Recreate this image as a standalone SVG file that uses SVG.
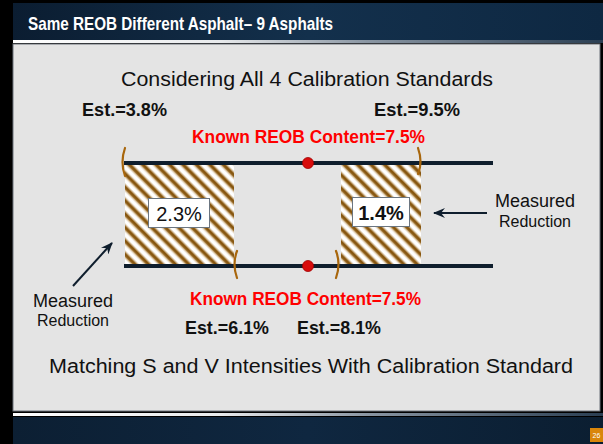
<svg xmlns="http://www.w3.org/2000/svg" width="603" height="444" viewBox="0 0 603 444">
<style>
.t{font-family:"Liberation Sans",Arial,sans-serif;fill:#111}
.est{font-family:"Liberation Sans",Arial,sans-serif;font-weight:bold;font-size:18px;fill:#111}
.red{font-family:"Liberation Sans",Arial,sans-serif;font-weight:bold;font-size:18px;fill:#ff0000}
.bar{stroke:#0f1e2d;stroke-width:4}
.dot{fill:#d80c0c;stroke:#a00000;stroke-width:0.8}
.br{fill:none;stroke:#a8660c;stroke-width:2.2;stroke-linecap:round}
.arr{stroke:#0f1e2d;stroke-width:2;fill:none}
.lbl{fill:#fff;stroke:#6b7580;stroke-width:1}
.pct{font-family:"Liberation Sans",Arial,sans-serif;font-size:20px;fill:#111}
</style>
<defs>
<linearGradient id="hdr" x1="0" y1="0" x2="1" y2="0">
<stop offset="0" stop-color="#0b1d31"/><stop offset="0.5" stop-color="#13304c"/><stop offset="1" stop-color="#0e2842"/>
</linearGradient>
<linearGradient id="ftr" x1="0" y1="0" x2="1" y2="0">
<stop offset="0" stop-color="#0c1f33"/><stop offset="0.5" stop-color="#0f2740"/><stop offset="1" stop-color="#0b1e31"/>
</linearGradient>
<linearGradient id="sep" x1="0" y1="0" x2="1" y2="0">
<stop offset="0" stop-color="#ffffff"/><stop offset="0.35" stop-color="#e8eaec"/><stop offset="0.6" stop-color="#8a96a3"/><stop offset="1" stop-color="#2a3e52"/>
</linearGradient>
<linearGradient id="stripe" x1="0" y1="0" x2="1" y2="0">
<stop offset="0" stop-color="#ffffff"/><stop offset="0.15" stop-color="#d4bb94"/><stop offset="0.28" stop-color="#87560f"/><stop offset="0.47" stop-color="#87560f"/><stop offset="0.6" stop-color="#d8c19e"/><stop offset="0.72" stop-color="#ffffff"/><stop offset="1" stop-color="#ffffff"/>
</linearGradient>
<pattern id="hatch" patternUnits="userSpaceOnUse" width="9.5" height="9.5" patternTransform="rotate(-45)">
<rect width="9.5" height="9.5" fill="url(#stripe)"/>
</pattern>
<marker id="ah" viewBox="0 0 12 10" refX="11" refY="5" markerWidth="6" markerHeight="5" orient="auto" markerUnits="strokeWidth">
<path d="M0,0 L12,5 L0,10 L4,5 z" fill="#0f1e2d"/>
</marker>
</defs>

<rect width="603" height="444" fill="#000"/>
<rect x="13" y="3" width="590" height="38" fill="url(#hdr)"/>
<rect x="13" y="40" width="590" height="3" fill="url(#sep)"/>
<rect x="13" y="44" width="587" height="367" fill="#e4e4e4" stroke="#6d737a" stroke-width="1"/>
<rect x="13" y="413" width="590" height="3" fill="url(#sep)"/>
<rect x="13" y="417" width="590" height="27" fill="url(#ftr)"/>
<rect x="590" y="428" width="13" height="14" fill="#d9860a"/>
<text x="596.5" y="438" font-family="Liberation Sans,Arial,sans-serif" font-size="7" fill="#fff" text-anchor="middle">26</text>

<text x="28" y="30" font-family="Liberation Sans,Arial,sans-serif" font-weight="bold" font-size="18.5" fill="#fff" textLength="305" lengthAdjust="spacingAndGlyphs">Same REOB Different Asphalt– 9 Asphalts</text>

<text class="t" x="307" y="86" font-size="20" text-anchor="middle" textLength="372" lengthAdjust="spacingAndGlyphs">Considering All 4 Calibration Standards</text>
<text class="est" x="82" y="116" textLength="85" lengthAdjust="spacingAndGlyphs">Est.=3.8%</text>
<text class="est" x="374" y="116" textLength="86" lengthAdjust="spacingAndGlyphs">Est.=9.5%</text>
<text class="red" x="192" y="143" textLength="233" lengthAdjust="spacingAndGlyphs">Known REOB Content=7.5%</text>

<g id="box-left">
<rect x="125" y="165" width="109" height="100" fill="url(#hatch)"/>
<rect class="lbl" x="148.5" y="198.5" width="61" height="29"/>
<text class="pct" x="179" y="221" text-anchor="middle">2.3%</text>
</g>
<g id="box-right">
<rect x="341" y="165" width="80" height="100" fill="url(#hatch)"/>
<rect class="lbl" x="352.5" y="197.5" width="57" height="29"/>
<text class="pct" x="381" y="220" text-anchor="middle" font-weight="bold">1.4%</text>
</g>

<g id="bars">
<line class="bar" x1="124" y1="163" x2="493" y2="163"/>
<line class="bar" x1="124" y1="266" x2="493" y2="266"/>
<circle class="dot" cx="308" cy="163" r="5.5"/>
<circle class="dot" cx="308" cy="266" r="5.5"/>
<path class="br" d="M125,148 Q120,162 125,176"/>
<path class="br" d="M418,148 Q423,162 418,174"/>
<path class="br" d="M237,251 Q232,264 237,278"/>
<path class="br" d="M336,251 Q341,264 336,278"/>
</g>

<g id="connectors">
<line class="arr" x1="487" y1="213" x2="434" y2="213" marker-end="url(#ah)"/>
<line class="arr" x1="73" y1="286" x2="112" y2="243" marker-end="url(#ah)"/>
</g>

<g id="label-right">
<text class="t" x="535" y="207" font-size="18" text-anchor="middle">Measured</text>
<text class="t" x="535" y="227" font-size="16" text-anchor="middle">Reduction</text>
</g>
<g id="label-left">
<text class="t" x="73" y="307" font-size="18" text-anchor="middle">Measured</text>
<text class="t" x="73" y="326" font-size="16" text-anchor="middle">Reduction</text>
</g>

<text class="red" x="190" y="305" textLength="231" lengthAdjust="spacingAndGlyphs">Known REOB Content=7.5%</text>
<text class="est" x="185" y="334" textLength="84" lengthAdjust="spacingAndGlyphs">Est.=6.1%</text>
<text class="est" x="297" y="334" textLength="84" lengthAdjust="spacingAndGlyphs">Est.=8.1%</text>

<text class="t" x="311" y="373" font-size="20" text-anchor="middle" textLength="524" lengthAdjust="spacingAndGlyphs">Matching S and V Intensities With Calibration Standard</text>
</svg>
